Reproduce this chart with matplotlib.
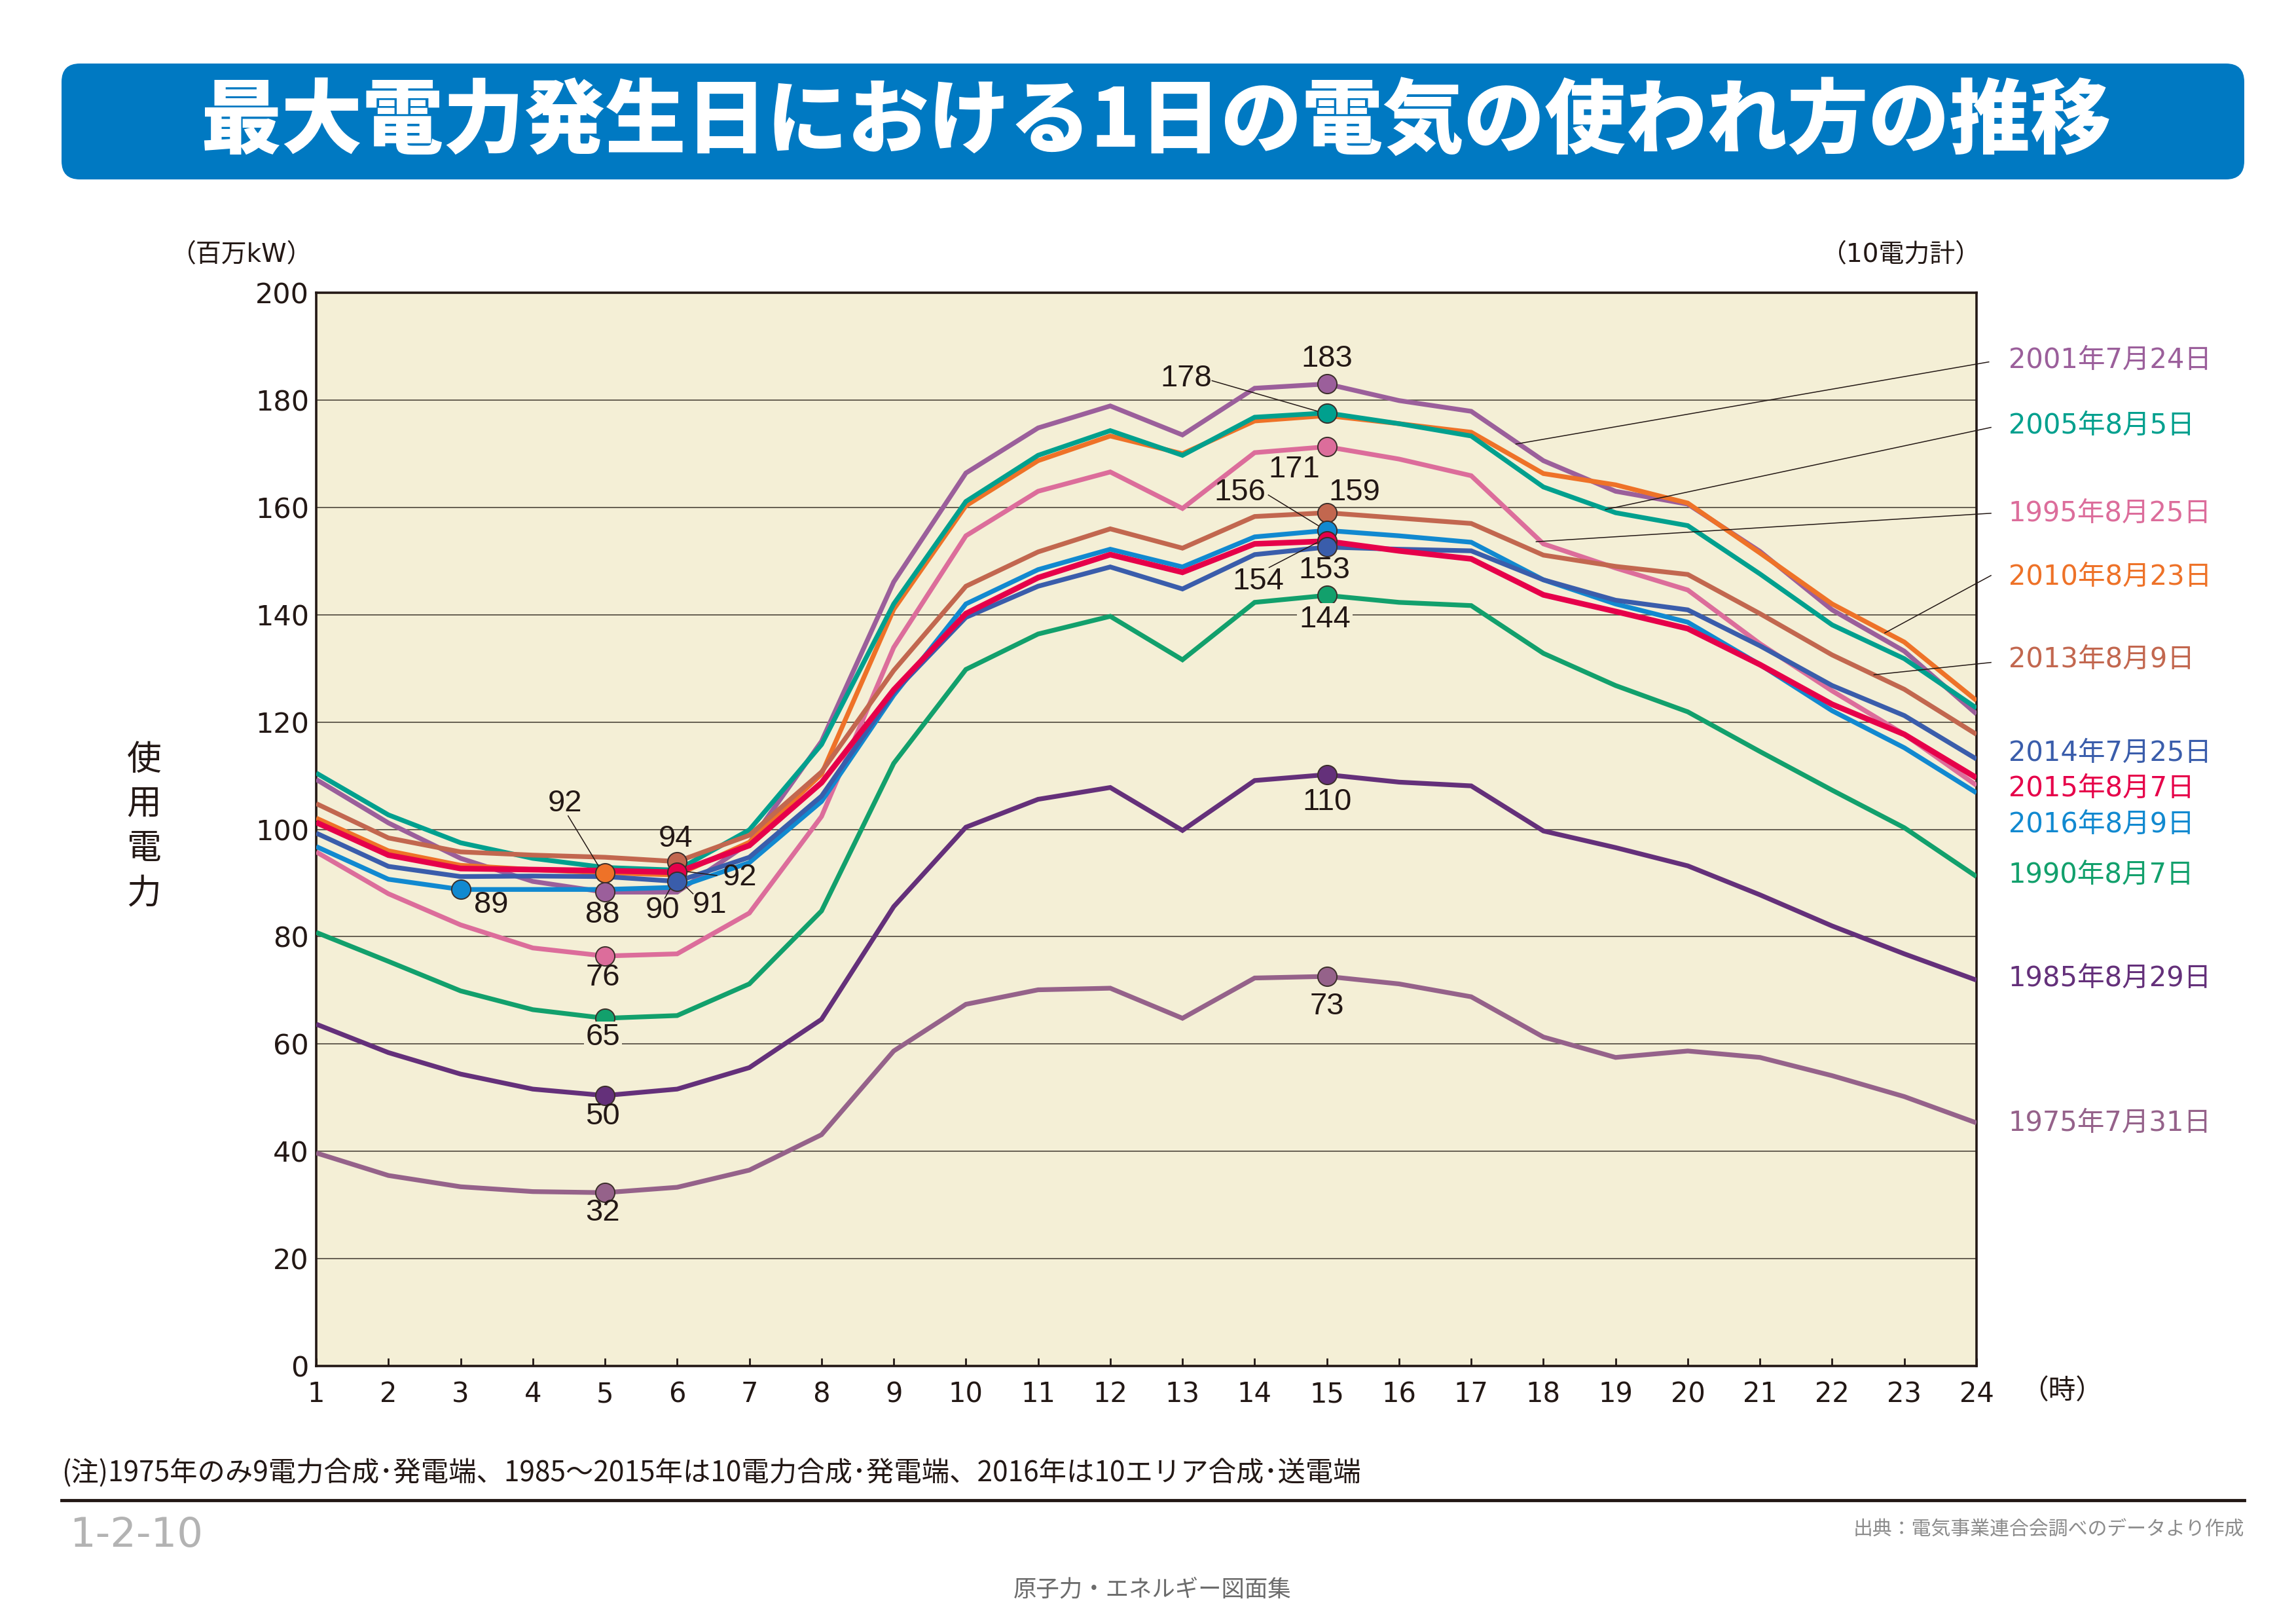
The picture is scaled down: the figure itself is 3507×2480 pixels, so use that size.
import matplotlib.pyplot as plt
from matplotlib.patches import FancyBboxPatch

plt.rcParams['font.family'] = ['DejaVu Sans', 'Noto Sans CJK JP']

# hourly demand (百万kW)
hours = list(range(1, 25))
y1975 = [39.7, 35.5, 33.4, 32.5, 32.3, 33.3, 36.5, 43.1, 58.7, 67.4, 70.1, 70.4,
         64.8, 72.3, 72.6, 71.2, 68.8, 61.3, 57.5, 58.7, 57.5, 54.1, 50.2, 45.3]
y1985 = [63.7, 58.4, 54.4, 51.6, 50.4, 51.6, 55.6, 64.6, 85.6, 100.4, 105.6, 107.8,
         99.8, 109.1, 110.2, 108.8, 108.1, 99.7, 96.6, 93.2, 87.8, 82.0, 76.8, 71.9]
y1990 = [80.8, 75.4, 69.9, 66.4, 64.8, 65.3, 71.2, 84.8, 112.3, 129.8, 136.4, 139.7,
         131.6, 142.3, 143.6, 142.3, 141.7, 132.8, 126.8, 121.9, 114.5, 107.3, 100.3, 91.2]
y1995 = [95.8, 88.0, 82.2, 77.9, 76.4, 76.8, 84.4, 102.4, 133.9, 154.7, 163.0, 166.6,
         159.8, 170.2, 171.3, 169.0, 165.9, 153.2, 148.7, 144.6, 134.6, 125.8, 117.7, 108.2]
y2001 = [109.3, 101.2, 94.6, 90.3, 88.3, 88.3, 97.5, 116.4, 146.1, 166.4, 174.8, 178.9,
         173.5, 182.2, 183.0, 179.9, 177.9, 168.7, 163.0, 160.6, 151.8, 140.9, 133.2, 121.5]
y2005 = [110.5, 102.7, 97.5, 94.6, 92.9, 92.4, 99.9, 115.8, 142.0, 161.1, 169.7, 174.3,
         169.7, 176.8, 177.6, 175.6, 173.3, 163.8, 159.0, 156.6, 147.6, 138.1, 131.8, 122.6]
y2010 = [102.1, 96.0, 93.3, 92.5, 91.9, 91.5, 97.6, 110.3, 141.0, 160.3, 168.7, 173.3,
         170.0, 176.1, 177.1, 175.6, 174.0, 166.3, 164.2, 160.8, 151.5, 142.0, 134.9, 124.0]
y2013 = [104.8, 98.4, 95.8, 95.2, 94.8, 94.0, 98.9, 110.7, 129.6, 145.3, 151.7, 156.0,
         152.4, 158.3, 159.0, 158.0, 157.0, 151.1, 149.0, 147.5, 140.2, 132.5, 126.1, 117.7]
y2014 = [99.3, 93.1, 91.2, 91.3, 91.2, 90.3, 94.8, 106.2, 125.5, 139.5, 145.3, 148.9,
         144.8, 151.2, 152.6, 152.2, 151.9, 146.5, 142.7, 140.9, 134.2, 126.8, 121.2, 113.1]
y2015 = [101.3, 95.2, 92.7, 92.5, 92.3, 92.0, 97.0, 108.7, 126.0, 140.2, 146.9, 151.2,
         147.9, 153.2, 153.7, 151.9, 150.4, 143.7, 140.6, 137.4, 130.7, 123.3, 117.7, 109.6]
y2016 = [96.8, 90.7, 88.8, 88.8, 88.8, 89.2, 93.8, 105.2, 125.0, 142.0, 148.4, 152.2,
         148.9, 154.5, 155.7, 154.7, 153.5, 146.5, 142.0, 138.6, 130.7, 122.1, 115.2, 106.8]

labels = {
    '1975': '1975年7月31日', '1985': '1985年8月29日', '1990': '1990年8月7日',
    '1995': '1995年8月25日', '2001': '2001年7月24日', '2005': '2005年8月5日',
    '2010': '2010年8月23日', '2013': '2013年8月9日', '2014': '2014年7月25日',
    '2015': '2015年8月7日', '2016': '2016年8月9日',
}
colors = {
    '1975': '#95628a', '1985': '#64307a', '1990': '#12a06c', '1995': '#dc6d9b',
    '2001': '#9b5f9b', '2005': '#00a08e', '2010': '#ee7228', '2013': '#c2674f',
    '2014': '#3a5dab', '2015': '#e6004a', '2016': '#1189d0',
}
values = {
    '1975': y1975, '1985': y1985, '1990': y1990, '1995': y1995, '2001': y2001,
    '2005': y2005, '2010': y2010, '2013': y2013, '2014': y2014, '2015': y2015,
    '2016': y2016,
}
draw_order = ['1975', '1985', '1990', '1995', '2001', '2010', '2005', '2013',
              '2016', '2014', '2015']

# legend text y (data units) on the right of the plot
legend_y = {'2001': 187.4, '2005': 175.3, '1995': 158.9, '2010': 147.1,
            '2013': 131.7, '2014': 114.2, '2015': 107.7, '2016': 100.9,
            '1990': 91.5, '1985': 72.3, '1975': 45.3}
# leader lines from legend text to the curve: x0, y0, x1, y1
legend_leaders = {'2001': (24.17, 187.1, 17.62, 171.8),
                  '2005': (24.2, 174.9, 18.86, 159.6),
                  '1995': (24.2, 158.9, 17.9, 153.6),
                  '2010': (24.2, 147.3, 22.73, 136.6),
                  '2013': (24.2, 131.1, 22.58, 128.8)}

# marked points: (series, hour, label x, label y, leader x0,y0,x1,y1 or None, boxed)
points = [
    ('2001', 15, 15.0, 187.7, None, False),
    ('2005', 15, 13.05, 184.0, (13.41, 183.6, 14.9, 177.8), False),
    ('1995', 15, 14.55, 167.0, None, False),
    ('2013', 15, 15.38, 162.8, None, False),
    ('2016', 15, 13.8, 162.8, (14.19, 162.3, 14.93, 156.2), False),
    ('2015', 15, 14.05, 146.2, (14.2, 148.8, 14.86, 153.4), False),
    ('2014', 15, 14.97, 148.3, None, False),
    ('1990', 15, 14.97, 139.1, None, True),
    ('1985', 15, 15.0, 105.1, None, False),
    ('1975', 15, 15.0, 67.0, None, False),
    ('2010', 5, 4.45, 104.8, (4.49, 102.5, 4.95, 92.3), False),
    ('2013', 6, 5.98, 98.2, None, False),
    ('2015', 6, 6.87, 91.0, (5.98, 92.4, 6.55, 91.4), False),
    ('2014', 6, 5.8, 84.9, (5.83, 87.2, 5.97, 90.6), False),
    ('2016', 3, 3.42, 85.9, None, False),
    ('2001', 5, 4.97, 84.1, None, False),
    ('1995', 5, 4.97, 72.4, None, False),
    ('1990', 5, 4.97, 61.2, None, True),
    ('1985', 5, 4.97, 46.5, None, False),
    ('1975', 5, 4.97, 28.5, None, False),
]
extra_label = ('91', 6.45, 85.9, (6.22, 88.0, 6.07, 90.0))

title = '最大電力発生日における1日の電気の使われ方の推移'
note = '(注)1975年のみ9電力合成･発電端、1985～2015年は10電力合成･発電端、2016年は10エリア合成･送電端'
source = '出典：電気事業連合会調べのデータより作成'

W, H = 3507, 2480
ink = '#231815'
plot_bg = '#f4efd6'
jp = ['Noto Sans CJK JP', 'DejaVu Sans']
num = ['Liberation Sans', 'DejaVu Sans']

fig = plt.figure(figsize=(W / 100, H / 100), dpi=100)

# page layer in pixel coordinates
page = fig.add_axes([0, 0, 1, 1])
page.set_xlim(0, W)
page.set_ylim(H, 0)
page.axis('off')

page.add_patch(FancyBboxPatch((94, 97), 3334, 177,
                              boxstyle='round,pad=0,rounding_size=28',
                              fc='#0079c2', ec='none'))
page.text(1765, 188, title, color='white', fontsize=89, fontweight='heavy',
          ha='center', va='center', family=jp)

page.text(477, 389, '（百万kW）', fontsize=28, ha='right', va='center', color=ink)
page.text(3026, 389, '（10電力計）', fontsize=28, ha='right', va='center', color=ink)
page.text(220, 1262, '使\n用\n電\n力', fontsize=38, ha='center', va='center',
          linespacing=1.3, color=ink, family=jp)
page.text(3087, 2124, '（時）', fontsize=30, ha='left', va='center', color=ink)

page.text(94, 2250, note, fontsize=30.5, ha='left', va='center', color=ink, family=jp)
page.plot([94, 3428], [2291, 2291], color=ink, lw=3.5)
page.text(106, 2345, '1-2-10', fontsize=45, ha='left', va='center', color='#b3b3b3')
page.text(3428, 2336, source, fontsize=21.5, ha='right', va='center', color='#8c8c8c',
          family=jp)
page.text(1760, 2428, '原子力・エネルギー図面集', fontsize=25.5, ha='center',
          va='center', color='#6b6b6b', family=jp)

# chart
ax = fig.add_axes([483 / W, 1 - 2086 / H, (3019 - 483) / W, (2086 - 447) / H])
ax.set_facecolor(plot_bg)
ax.set_xlim(1, 24)
ax.set_ylim(0, 200)
ax.set_xticks(hours)
ax.set_yticks(range(0, 201, 20))
ax.grid(axis='y', color='#5b5348', lw=1.3)
ax.set_axisbelow(True)
for sp in ax.spines.values():
    sp.set_color(ink)
    sp.set_linewidth(2.6)
ax.tick_params(axis='x', direction='in', length=9, width=2, color=ink,
               labelsize=30, pad=16, labelcolor=ink)
ax.tick_params(axis='y', length=0, labelsize=31, pad=8, labelcolor=ink)

for key in draw_order:
    lw = 6.2 if key == '2015' else 5.2
    ax.plot(hours, values[key], color=colors[key], lw=lw, zorder=3,
            solid_joinstyle='miter', solid_capstyle='butt')

for key, (x0, y0, x1, y1) in legend_leaders.items():
    ax.plot([x0, x1], [y0, y1], color=ink, lw=1.1, zorder=6, clip_on=False)

for key, ly in legend_y.items():
    ax.text(24.44, ly, labels[key], color=colors[key], fontsize=30,
            ha='left', va='center', clip_on=False)

for key, h, tx, ty, leader, boxed in points:
    v = values[key][h - 1]
    ax.plot(h, v, 'o', ms=21, mfc=colors[key], mec='#3b2e2a', mew=1.4, zorder=7)
    if leader:
        ax.plot(leader[0::2], leader[1::2], color=ink, lw=1.1, zorder=6)
    box = dict(fc=plot_bg, ec='none', pad=2) if boxed else None
    ax.text(tx, ty, f'{v:.0f}', fontsize=34, ha='center', va='center',
            color=ink, family=num, zorder=8, bbox=box)

txt, tx, ty, leader = extra_label
ax.plot(leader[0::2], leader[1::2], color=ink, lw=1.1, zorder=6)
ax.text(tx, ty, txt, fontsize=34, ha='center', va='center', color=ink,
        family=num, zorder=8)

fig.savefig('out.png', dpi=100)
